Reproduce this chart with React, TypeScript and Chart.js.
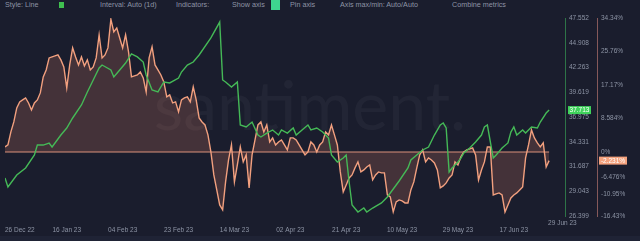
import React, { useEffect, useRef } from 'react';
import { Chart, registerables } from 'chart.js';

Chart.register(...registerables);

// ---- Data (day offsets from 26 Dec 2022) ----
const xTickDays = [0, 21, 40, 59, 78, 97, 116, 135, 154, 173];
const xTickLabels = ['26 Dec 22', '16 Jan 23', '04 Feb 23', '23 Feb 23', '14 Mar 23', '02 Apr 23', '21 Apr 23', '10 May 23', '29 May 23', '17 Jun 23'];
const lastDateLabel = '29 Jun 23';
const xMaxDay = 190.4;

const priceDays = [0, 1, 4, 7, 10, 11, 13, 15, 16, 19, 21, 23, 26, 28, 30, 32, 33, 36, 37, 39, 41, 43, 45, 47, 48, 50, 52, 54, 56, 59, 60, 62, 64, 66, 70, 73, 74, 75, 77, 79, 80, 82, 84, 86, 87, 89, 91, 93, 94, 96, 98, 99, 101, 103, 104, 106, 108, 110, 111, 113, 115, 116, 117, 118, 120, 122, 123, 125, 128, 130, 132, 134, 137, 138, 140, 142, 144, 146, 148, 149, 150, 151, 152, 154, 155, 156, 158, 160, 162, 163, 164, 166, 167, 169, 171, 172, 173, 174, 176, 177, 179, 181, 182, 184, 185];
const priceValues = [30.46, 29.5, 30.78, 31.53, 32.92, 33.98, 33.98, 34.2, 33.77, 35.05, 35.8, 36.87, 38.26, 39.65, 40.93, 42.21, 42.53, 42.0, 41.25, 42.0, 42.74, 43.71, 43.39, 42.85, 41.46, 39.86, 39.65, 40.72, 40.61, 41.14, 41.78, 42.53, 42.85, 43.6, 45.42, 47.12, 40.93, 40.71, 40.18, 40.71, 36.12, 35.91, 36.44, 35.05, 34.84, 35.26, 35.59, 35.05, 35.59, 35.26, 35.8, 35.05, 35.59, 36.12, 35.59, 35.8, 35.37, 34.73, 32.92, 32.17, 32.59, 32.92, 30.03, 27.57, 26.83, 27.25, 26.83, 27.25, 27.79, 28.43, 29.28, 30.14, 31.53, 32.38, 32.92, 33.45, 33.77, 35.05, 36.12, 36.33, 35.8, 31.1, 31.53, 32.17, 32.59, 33.13, 33.66, 34.3, 35.05, 35.91, 36.12, 32.59, 32.92, 33.66, 34.2, 35.37, 35.91, 35.05, 35.59, 35.26, 35.91, 35.8, 36.44, 37.4, 37.713];

// daily values, day 0 .. 185
const pctValues = [
  1.28, 1.79, 5.13, 7.69, 11.28, 12.82, 13.33, 13.85, 12.56, 10.77,
  12.56, 13.33, 15.13, 19.23, 21.03, 24.1, 24.36, 24.62, 24.87, 23.59,
  21.79, 16.41, 22.31, 26.67, 24.36, 22.31, 24.36, 22.05, 23.59, 21.03,
  21.79, 24.1, 30.0, 24.1, 24.87, 26.67, 34.0, 30.77, 31.79, 29.23,
  26.67, 30.0, 25.64, 19.23, 19.49, 19.74, 20.51, 18.97, 15.38, 24.1,
  26.92, 22.31, 21.03, 19.74, 17.95, 14.1, 14.62, 12.56, 12.82, 10.26,
  13.33, 13.85, 14.1, 12.82, 16.67, 13.33, 8.72, 7.69, 6.92, 4.36,
  0, -5.9, -9.74, -13.59, -14.87, -7.69, -2.05, 1.79, -7.69, -3.33,
  1.28, -2.56, -0.77, -9.23, -0.77, 3.08, 6.92, 7.69, 5.13, 6.92,
  2.56, 3.59, 1.79, 2.56, 3.08, 1.79, 0.51, 3.59, 3.59, 3.08,
  1.79, 0.51, -0.77, 0, 2.56, 1.79, 0, 1.79, 2.56, 5.13,
  4.36, 6.92, 4.36, 1.79, -5.13, -10.26, -8.46, -6.67, -5.9, -4.1,
  -2.56, -5.13, -4.62, -3.85, -3.33, -7.18, -5.9, -5.13, -5.38, -5.38,
  -11.03, -11.54, -15.38, -12.82, -12.31, -12.56, -13.08, -13.08, -9.74, -7.69,
  -4.1, -0.77, 0.51, -2.56, -1.54, -2.05, -2.82, -4.62, -9.23, -8.72,
  -7.95, -6.67, -5.9, -2.56, -3.33, -1.28, 0, 0.51, 0.77, 1.03,
  -0.77, -7.18, -4.62, -2.56, 1.28, 1.28, -11.03, -10.77, -10.51, -11.03,
  -15.38, -13.59, -11.79, -11.03, -10.51, -9.74, -8.97, -1.54, 1.79, 5.64,
  3.59, 2.31, 1.28, 2.31, -3.85, -2.231,
];

const priceTicks = [26.399, 29.043, 31.687, 34.331, 36.975, 39.619, 42.263, 44.908, 47.552];
const pctTicks = [-16.43, -10.95, -6.476, 0, 8.584, 17.17, 25.76, 34.34];

const toolbarItems = [
  { x: 5, text: 'Style: Line' },
  { x: 100, text: 'Interval: Auto (1d)' },
  { x: 176, text: 'Indicators:' },
  { x: 232, text: 'Show axis' },
  { x: 290, text: 'Pin axis' },
  { x: 340, text: 'Axis max/min: Auto/Auto' },
  { x: 452, text: 'Combine metrics' },
];

// ---- Styles ----
const BG = '#1a1d2d';
const GREEN = '#45b957';
const ORANGE = '#f2a07f';
const LABEL = '#8d94a5';
const FONT = "'Liberation Sans', Arial, sans-serif";

const overlayPlugin = {
  id: 'overlay',
  beforeDatasetsDraw(chart: any) {
    const { ctx, chartArea, scales } = chart;
    ctx.save();
    // watermark
    ctx.fillStyle = 'rgba(255,255,255,0.04)';
    ctx.font = `400 68px Lato, ${FONT}`;
    ctx.textBaseline = 'alphabetic';
    const w = ctx.measureText('santiment.').width;
    ctx.fillText('santiment.', 310 - w / 2, 130);
    // zero line
    const y0 = scales.yPct.getPixelForValue(0);
    ctx.strokeStyle = 'rgba(238,160,135,0.6)';
    ctx.lineWidth = 1.5;
    ctx.beginPath();
    ctx.moveTo(chartArea.left, y0);
    ctx.lineTo(scales.x.getPixelForValue(pctValues.length - 1), y0);
    ctx.stroke();
    ctx.restore();
  },
  afterDraw(chart: any) {
    const { ctx, chartArea, scales } = chart;
    ctx.save();
    ctx.font = `6.5px ${FONT}`;
    ctx.textBaseline = 'middle';
    // green badge
    const lastPrice = priceValues[priceValues.length - 1];
    const gy = scales.yPrice.getPixelForValue(lastPrice);
    const gx = scales.yPrice.left + 3;
    ctx.fillStyle = '#3fd35b';
    ctx.fillRect(gx, gy - 4, 23, 8);
    ctx.fillStyle = '#ffffff';
    ctx.textAlign = 'center';
    ctx.fillText(lastPrice.toFixed(3), gx + 11.5, gy + 0.5);
    // orange badge
    const lastPct = pctValues[pctValues.length - 1];
    const oy = scales.yPct.getPixelForValue(lastPct);
    const ox = scales.yPct.left + 2;
    ctx.fillStyle = '#f4a27e';
    ctx.fillRect(ox, oy - 4, 28, 8);
    ctx.fillStyle = '#ffffff';
    ctx.fillText(`${lastPct.toFixed(3)}%`, ox + 14, oy + 0.5);
    // last date tag
    ctx.fillStyle = LABEL;
    ctx.textAlign = 'left';
    ctx.fillText(lastDateLabel, scales.x.getPixelForValue(pctValues.length - 1) - 1, chartArea.bottom + 7);
    ctx.restore();
  },
};

export default function App() {
  const canvasRef = useRef<HTMLCanvasElement | null>(null);

  useEffect(() => {
    document.body.style.margin = '0';
    const canvas = canvasRef.current;
    if (!canvas) return;
    const chart = new Chart(canvas, {
      type: 'line',
      data: {
        datasets: [
          {
            label: 'Price',
            data: priceDays.map((d, i) => ({ x: d, y: priceValues[i] })),
            yAxisID: 'yPrice',
            borderColor: GREEN,
            borderWidth: 1.4,
            pointRadius: 0,
            tension: 0,
            fill: false,
          },
          {
            label: 'Change %',
            data: pctValues.map((v, i) => ({ x: i, y: v })),
            yAxisID: 'yPct',
            borderColor: ORANGE,
            borderWidth: 1.4,
            pointRadius: 0,
            tension: 0,
            fill: { target: { value: 0 } },
            backgroundColor: 'rgba(238,135,105,0.2)',
          },
        ],
      },
      options: {
        animation: false,
        responsive: false,
        maintainAspectRatio: false,
        layout: { padding: { left: 5, top: 18, right: 0, bottom: 0 } },
        plugins: { legend: { display: false }, tooltip: { enabled: false } },
        scales: {
          x: {
            type: 'linear',
            min: 0,
            max: xMaxDay,
            afterBuildTicks: (s: any) => {
              s.ticks = [...xTickDays, xMaxDay].map((v) => ({ value: v }));
            },
            afterFit: (s: any) => {
              s.height = 25;
              s.paddingLeft = 0;
              s.paddingRight = 0;
            },
            grid: { display: false },
            border: { display: false },
            ticks: {
              align: 'inner',
              autoSkip: false,
              maxRotation: 0,
              padding: 2,
              color: LABEL,
              font: { size: 6.5, family: FONT },
              callback: (v: any) => {
                const i = xTickDays.indexOf(v);
                return i >= 0 ? xTickLabels[i] : '';
              },
            },
          },
          yPrice: {
            type: 'linear',
            position: 'right',
            weight: 0,
            min: priceTicks[0],
            max: priceTicks[priceTicks.length - 1],
            afterBuildTicks: (s: any) => {
              s.ticks = priceTicks.map((v) => ({ value: v }));
            },
            afterFit: (s: any) => {
              s.width = 32;
              s.paddingTop = 0;
              s.paddingBottom = 0;
            },
            grid: { display: false, drawTicks: false },
            border: { display: true, color: '#2e7447', width: 1 },
            ticks: {
              autoSkip: false,
              padding: 4,
              color: LABEL,
              font: { size: 6.5, family: FONT },
              callback: (v: any) => Number(v).toFixed(3),
            },
          },
          yPct: {
            type: 'linear',
            position: 'right',
            weight: 1,
            min: pctTicks[0],
            max: pctTicks[pctTicks.length - 1],
            afterBuildTicks: (s: any) => {
              s.ticks = pctTicks.map((v) => ({ value: v }));
            },
            afterFit: (s: any) => {
              s.width = 43;
              s.paddingTop = 0;
              s.paddingBottom = 0;
            },
            grid: { display: false, drawTicks: false },
            border: { display: true, color: '#86595a', width: 1 },
            ticks: {
              autoSkip: false,
              padding: 4,
              color: LABEL,
              font: { size: 6.5, family: FONT },
              callback: (v: any) => `${v}%`,
            },
          },
        },
      } as any,
      plugins: [overlayPlugin],
    });
    return () => chart.destroy();
  }, []);

  return (
    <div style={{ position: 'relative', width: 640, height: 241, background: BG, overflow: 'hidden' }}>
      {toolbarItems.map((it) => (
        <span
          key={it.text}
          style={{
            position: 'absolute',
            left: it.x,
            top: 1,
            fontFamily: FONT,
            fontSize: 7.2,
            lineHeight: '8px',
            color: LABEL,
            whiteSpace: 'nowrap',
          }}
        >
          {it.text}
        </span>
      ))}
      <div style={{ position: 'absolute', left: 59, top: 2, width: 5, height: 6, background: '#3fbf4f' }} />
      <div style={{ position: 'absolute', left: 271, top: 0, width: 9, height: 10, background: '#3ed58f' }} />
      <div style={{ position: 'absolute', left: 0, top: 236, width: 640, height: 5, background: '#1f2335' }} />
      <canvas ref={canvasRef} width={640} height={241} style={{ position: 'absolute', left: 0, top: 0 }} />
    </div>
  );
}
